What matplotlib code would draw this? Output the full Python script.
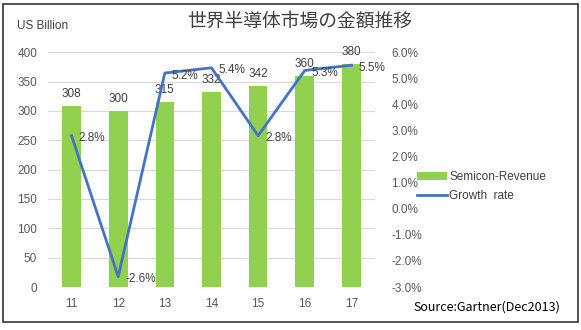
import matplotlib.pyplot as plt
from matplotlib.patches import Rectangle

plt.rcParams['font.family'] = ['Liberation Sans', 'Noto Sans CJK JP', 'DejaVu Sans']

years = ['11', '12', '13', '14', '15', '16', '17']
revenue = [308, 300, 315, 332, 342, 360, 380]
growth = [2.8, -2.6, 5.2, 5.4, 2.8, 5.3, 5.5]

bar_color = '#92D050'
line_color = '#4472C4'
txt = '#404040'

fig = plt.figure(figsize=(5.81, 3.30), dpi=100)
fig.patches.append(Rectangle((0.006, 0.025), 0.988, 0.963, transform=fig.transFigure,
                             fill=False, edgecolor='#333333', linewidth=1.2))

ax = fig.add_axes([0.083, 0.130, 0.562, 0.712])
x = range(len(years))
bars = ax.bar(x, revenue, width=0.4, color=bar_color, label='Semicon-Revenue', zorder=2)
ax.set_ylim(0, 400)
ax.set_yticks(range(0, 401, 50))
ax.set_xlim(-0.5, 6.5)
ax.set_xticks(list(x))
ax.set_xticklabels(years)
ax.grid(axis='y', color='#D9D9D9', linewidth=0.8, zorder=0)
for s in ax.spines.values():
    s.set_visible(False)
ax.tick_params(length=0, labelsize=8.5, colors='#595959', pad=8)
for i, v in enumerate(revenue):
    ax.text(i, v + 10, str(v), ha='center', va='bottom', fontsize=8.5, color=txt, zorder=5)

ax2 = ax.twinx()
ax2.plot(list(x), growth, color=line_color, linewidth=2, label='Growth  rate', zorder=3)
ax2.set_ylim(-3, 6)
ax2.set_yticks(range(-3, 7))
ax2.set_yticklabels([f'{v:.1f}%' for v in range(-3, 7)])
for s in ax2.spines.values():
    s.set_visible(False)
ax2.tick_params(length=0, labelsize=8.5, colors='#595959', pad=12)
for i, g in enumerate(growth):
    ax2.text(i + 0.15, g - 0.1, f'{g:.1f}%', ha='left', va='center', fontsize=8.5, color=txt)

h1, l1 = ax.get_legend_handles_labels()
h2, l2 = ax2.get_legend_handles_labels()
fig.legend(h1 + h2, l1 + l2, loc='center left', bbox_to_anchor=(0.7, 0.435), frameon=False,
           fontsize=8.5, labelcolor='#404040', handlelength=2.5, handletextpad=0.2,
           labelspacing=0.6)

fig.text(0.515, 0.935, '世界半導体市場の金額推移', ha='center', va='center', fontsize=13.5,
         color='#404040', family=['Noto Sans CJK JP'])
fig.text(0.03, 0.92, 'US Billion', ha='left', va='center', fontsize=8.5, color='#404040')
fig.text(0.965, 0.07, 'Source:Gartner(Dec2013)', ha='right', va='center', fontsize=9,
         color='black', family=['Noto Sans CJK JP'])

fig.savefig('out.png', dpi=100)
